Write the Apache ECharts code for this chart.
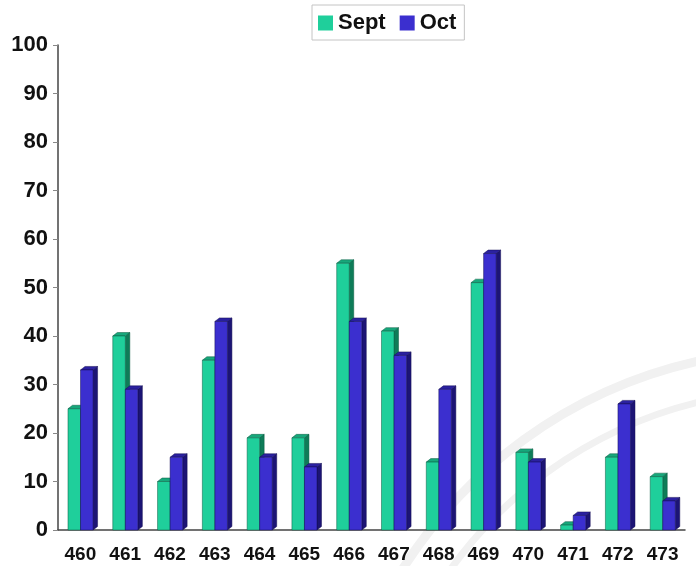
<!DOCTYPE html>
<html>
<head>
<meta charset="utf-8">
<script src="https://cdn.jsdelivr.net/npm/echarts@6/dist/echarts.min.js"></script>
<style>
  html, body { margin: 0; padding: 0; background: #fff; }
  #chart { width: 696px; height: 566px; }
</style>
</head>
<body>
<div id="chart"></div>
<script>
const categories = ['460', '461', '462', '463', '464', '465', '466', '467', '468', '469', '470', '471', '472', '473']
const septValues = [25, 40, 10, 35, 19, 19, 55, 41, 14, 51, 16, 1, 15, 11]
const octValues = [33, 29, 15, 43, 15, 13, 43, 36, 29, 57, 14, 3, 26, 6]
const yTicks = { min: 0, max: 100, interval: 10 }

const chart = echarts.init(document.getElementById('chart'))

// draws a bar with a small 3d side and top face
const makeBar = (offset, colors) => (params, api) => {
  const cat = api.value(0)
  const val = api.value(1)
  const base = api.coord([cat, 0])
  const top = api.coord([cat, val])
  const band = api.size([1, 0])[0]
  const w = band * 0.28
  const dx = 4.5
  const dy = 3.5
  const x0 = base[0] + offset * band
  const x1 = x0 + w
  const y0 = base[1]
  const y1 = top[1]
  return {
    type: 'group',
    children: [
      {
        type: 'polygon',
        shape: { points: [[x1, y1], [x1 + dx, y1 - dy], [x1 + dx, y0 - dy], [x1, y0]] },
        style: { fill: colors.side, stroke: colors.edge, lineWidth: 0.5 }
      },
      {
        type: 'polygon',
        shape: { points: [[x0, y1], [x0 + dx, y1 - dy], [x1 + dx, y1 - dy], [x1, y1]] },
        style: { fill: colors.top, stroke: colors.edge, lineWidth: 0.5 }
      },
      {
        type: 'rect',
        shape: { x: x0, y: y1, width: w, height: y0 - y1 },
        style: { fill: colors.front, stroke: colors.edge, lineWidth: 0.5 }
      }
    ]
  }
}

const septColors = { front: '#1fcf9b', side: '#0e7c58', top: '#17a77b', edge: '#0a5a40' }
const octColors = { front: '#3b2fcf', side: '#1c1475', top: '#2b21a0', edge: '#150e55' }

const labelFont = {
  fontFamily: 'Liberation Sans',
  fontWeight: 'bold',
  color: '#111'
}

const option = {
  animation: false,
  backgroundColor: '#fff',
  // faint watermark arcs behind the plot
  graphic: [
    {
      type: 'arc',
      z: -10,
      silent: true,
      shape: { cx: 800, cy: 820, r: 470, startAngle: Math.PI * 1.05, endAngle: Math.PI * 1.6 },
      style: { stroke: '#f1f1f1', lineWidth: 9, fill: null }
    },
    {
      type: 'arc',
      z: -10,
      silent: true,
      shape: { cx: 800, cy: 820, r: 430, startAngle: Math.PI * 1.05, endAngle: Math.PI * 1.6 },
      style: { stroke: '#f1f1f1', lineWidth: 7, fill: null }
    }
  ],
  legend: {
    top: 5,
    left: 312,
    itemWidth: 15,
    itemHeight: 15,
    itemGap: 14,
    borderColor: '#c4c4c4',
    borderWidth: 1,
    padding: [7, 8, 6, 6],
    icon: 'rect',
    textStyle: Object.assign({ fontSize: 22 }, labelFont),
    data: ['Sept', 'Oct']
  },
  grid: {
    left: 58,
    right: 11,
    top: 45,
    bottom: 36
  },
  xAxis: {
    type: 'category',
    data: categories,
    axisLine: { lineStyle: { color: '#444', width: 1.5 } },
    axisTick: { length: 8, lineStyle: { color: '#444', width: 1.5 } },
    axisLabel: Object.assign({ fontSize: 19, margin: 15 }, labelFont)
  },
  yAxis: {
    type: 'value',
    min: yTicks.min,
    max: yTicks.max,
    interval: yTicks.interval,
    splitLine: { show: false },
    axisLine: { show: true, lineStyle: { color: '#444', width: 1.5 } },
    axisTick: { show: true, length: 5, lineStyle: { color: '#888' } },
    axisLabel: Object.assign({ fontSize: 22, margin: 10 }, labelFont)
  },
  series: [
    {
      name: 'Sept',
      type: 'custom',
      itemStyle: { color: septColors.front },
      renderItem: makeBar(-0.277, septColors),
      encode: { x: 0, y: 1 },
      data: septValues.map((v, i) => [i, v])
    },
    {
      name: 'Oct',
      type: 'custom',
      itemStyle: { color: octColors.front },
      renderItem: makeBar(0.003, octColors),
      encode: { x: 0, y: 1 },
      data: octValues.map((v, i) => [i, v])
    }
  ]
}

chart.setOption(option)
</script>
</body>
</html>
